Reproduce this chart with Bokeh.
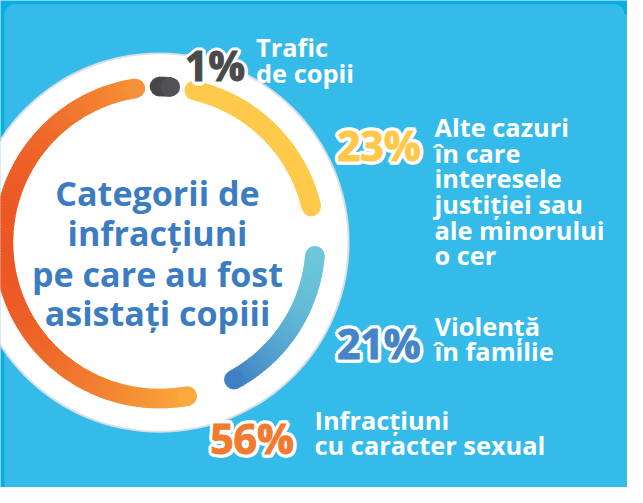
import math
from bokeh.plotting import figure
from bokeh.models import Range1d, ColumnDataSource
from bokeh.embed import file_html
from bokeh.resources import INLINE
from bokeh.core.properties import value

# ---------------- data ----------------
categories = ["Trafic de copii",
              "Alte cazuri în care interesele justiției sau ale minorului o cer",
              "Violență în familie",
              "Infracțiuni cu caracter sexual"]
values = [1, 23, 21, 56]
pct_labels = ["1%", "23%", "21%", "56%"]
label_lines = [["Trafic", "de copii"],
               ["Alte cazuri", "în care", "interesele", "justiției sau", "ale minorului", "o cer"],
               ["Violență", "în familie"],
               ["Infracțiuni", "cu caracter sexual"]]
title_lines = ["Categorii de", "infracțiuni", "pe care au fost", "asistați copiii"]

# ---------------- styles / layout ----------------
ring_grad = [("#3A3A3C", "#5E5E60"), ("#FFC94B", "#FFC94B"),
             ("#3A77C1", "#70CFDC"), ("#EB5223", "#FAAD3E")]
pct_colors = ["#4A4A4C", "#FFC84A", "#4584C6", "#F27A2E"]
pct_pos = [(189, 67), (345, 149), (345, 354), (215, 452)]   # reference px (left, baseline)
lab_pos = [(262, 48), (445, 131), (445, 336), (322, 433)]
lab_step = 26.4

W, H = 643, 503            # reference canvas (data units)
PW, PH = 627, 487          # figure size in the browser window
SX, SY = PW / W, PH / H
FONT = value("Open Sans")


def Y(ys):
    return H - ys


def fs(px):
    return "%.1fpx" % (px * SX)


p = figure(width=PW, height=PH,
           x_range=Range1d(0, W), y_range=Range1d(0, H),
           output_backend="svg", toolbar_location=None, min_border=0)
p.axis.visible = False
p.grid.visible = False
p.outline_line_color = None
p.background_fill_color = "#0AADE4"
p.border_fill_color = "#0AADE4"

# inner rounded panel
LB = "#35BBE9"
p.quad(left=[4, 14], right=[W + 10, 630], top=[Y(14), Y(4)], bottom=[-10, Y(14)],
       fill_color=LB, line_color=None)
p.circle(x=[14, 630], y=[Y(14), Y(14)], radius=10, fill_color=LB, line_color=None)

# white disc
cx, cy = 163, Y(250)
p.circle(x=[cx], y=[cy], radius=195, fill_color="#D8DEE3", line_color=None)
p.circle(x=[cx], y=[cy], radius=193, fill_color="white", line_color=None)


def hex2rgb(h):
    h = h.lstrip("#")
    return tuple(int(h[i:i + 2], 16) for i in (0, 2, 4))


def mix(c0, c1, t):
    a, b = hex2rgb(c0), hex2rgb(c1)
    return "#%02x%02x%02x" % tuple(int(round(a[i] + (b[i] - a[i]) * t)) for i in range(3))


# ring segments
R, thick = 160.0, 20.0
gap = 11.0
rot = 2.0
cap_deg = math.degrees(thick / 2 / R)
total = float(sum(values))
start = -values[0] / 2 / total * 360.0 + rot
yk = SX / SY   # keep caps on the circle drawn in screen space

ws = dict(x=[], y=[], a0=[], a1=[], color=[])
caps = dict(x=[], y=[], color=[])
for i, v in enumerate(values):
    span = v / total * 360.0
    c = start + span / 2
    body = max(span - gap - 2 * cap_deg, 4.0)
    t0, t1 = c - body / 2, c + body / 2
    start += span
    n = max(int(body / 1.0), 2)
    thetas = [t0 + (t1 - t0) * k / n for k in range(n + 1)]
    xs_all = [cx + R * math.sin(math.radians(t)) for t in thetas]
    xmin, xmax = min(xs_all) - thick / 2, max(xs_all) + thick / 2
    c0, c1 = ring_grad[i]

    def col(x):
        t = 0.5 if xmax == xmin else (x - xmin) / (xmax - xmin)
        return mix(c0, c1, min(max(t, 0), 1))

    for k in range(n):
        ta, tb = thetas[k], thetas[k + 1]
        tm = (ta + tb) / 2
        xm = cx + R * math.sin(math.radians(tm))
        ws["x"].append(cx)
        ws["y"].append(cy)
        ws["a0"].append(math.radians(90 - tb - 0.35))
        ws["a1"].append(math.radians(90 - ta + 0.35))
        ws["color"].append(col(xm))
    for t in (t0, t1):
        xe = cx + R * math.sin(math.radians(t))
        ye = cy + R * math.cos(math.radians(t)) * yk
        caps["x"].append(xe)
        caps["y"].append(ye)
        caps["color"].append(col(xe))

p.annular_wedge(x="x", y="y", inner_radius=R - thick / 2, outer_radius=R + thick / 2,
                start_angle="a0", end_angle="a1",
                fill_color="color", line_color=None, source=ColumnDataSource(ws))
p.circle(x="x", y="y", radius=thick / 2, fill_color="color", line_color=None,
         source=ColumnDataSource(caps))

# centre title
p.text(x=[161] * 4, y=[Y(b) for b in (199, 240, 282, 323)], text=title_lines,
       text_font=FONT, text_font_style="bold", text_font_size=fs(35),
       text_color="#3C7CC2", text_align="center", text_baseline="alphabetic")

# percentage labels: white halo, then coloured heavy text
px_ = [q[0] for q in pct_pos]
py_ = [Y(q[1]) for q in pct_pos]
halo_r = 3.2
for k in range(12):
    a = math.radians(k * 30)
    p.text(x=px_, y=py_, text=pct_labels, x_offset=halo_r * math.cos(a),
           y_offset=halo_r * math.sin(a),
           text_font=FONT, text_font_style="bold", text_font_size=fs(42),
           text_color="white", text_outline_color="white",
           text_align="left", text_baseline="alphabetic")
p.text(x=px_, y=py_, text=pct_labels,
       text_font=FONT, text_font_style="bold", text_font_size=fs(42),
       text_color=pct_colors, text_outline_color=pct_colors,
       text_align="left", text_baseline="alphabetic")

# category labels
lx, ly, lt = [], [], []
for (x0, b0), lines in zip(lab_pos, label_lines):
    for j, s in enumerate(lines):
        lx.append(x0)
        ly.append(Y(b0 + j * lab_step))
        lt.append(s)
p.text(x=lx, y=ly, text=lt, text_font=FONT, text_font_style="bold",
       text_font_size=fs(26), text_color="white",
       text_align="left", text_baseline="alphabetic")

open("out.html", "w").write(file_html(p, INLINE))
